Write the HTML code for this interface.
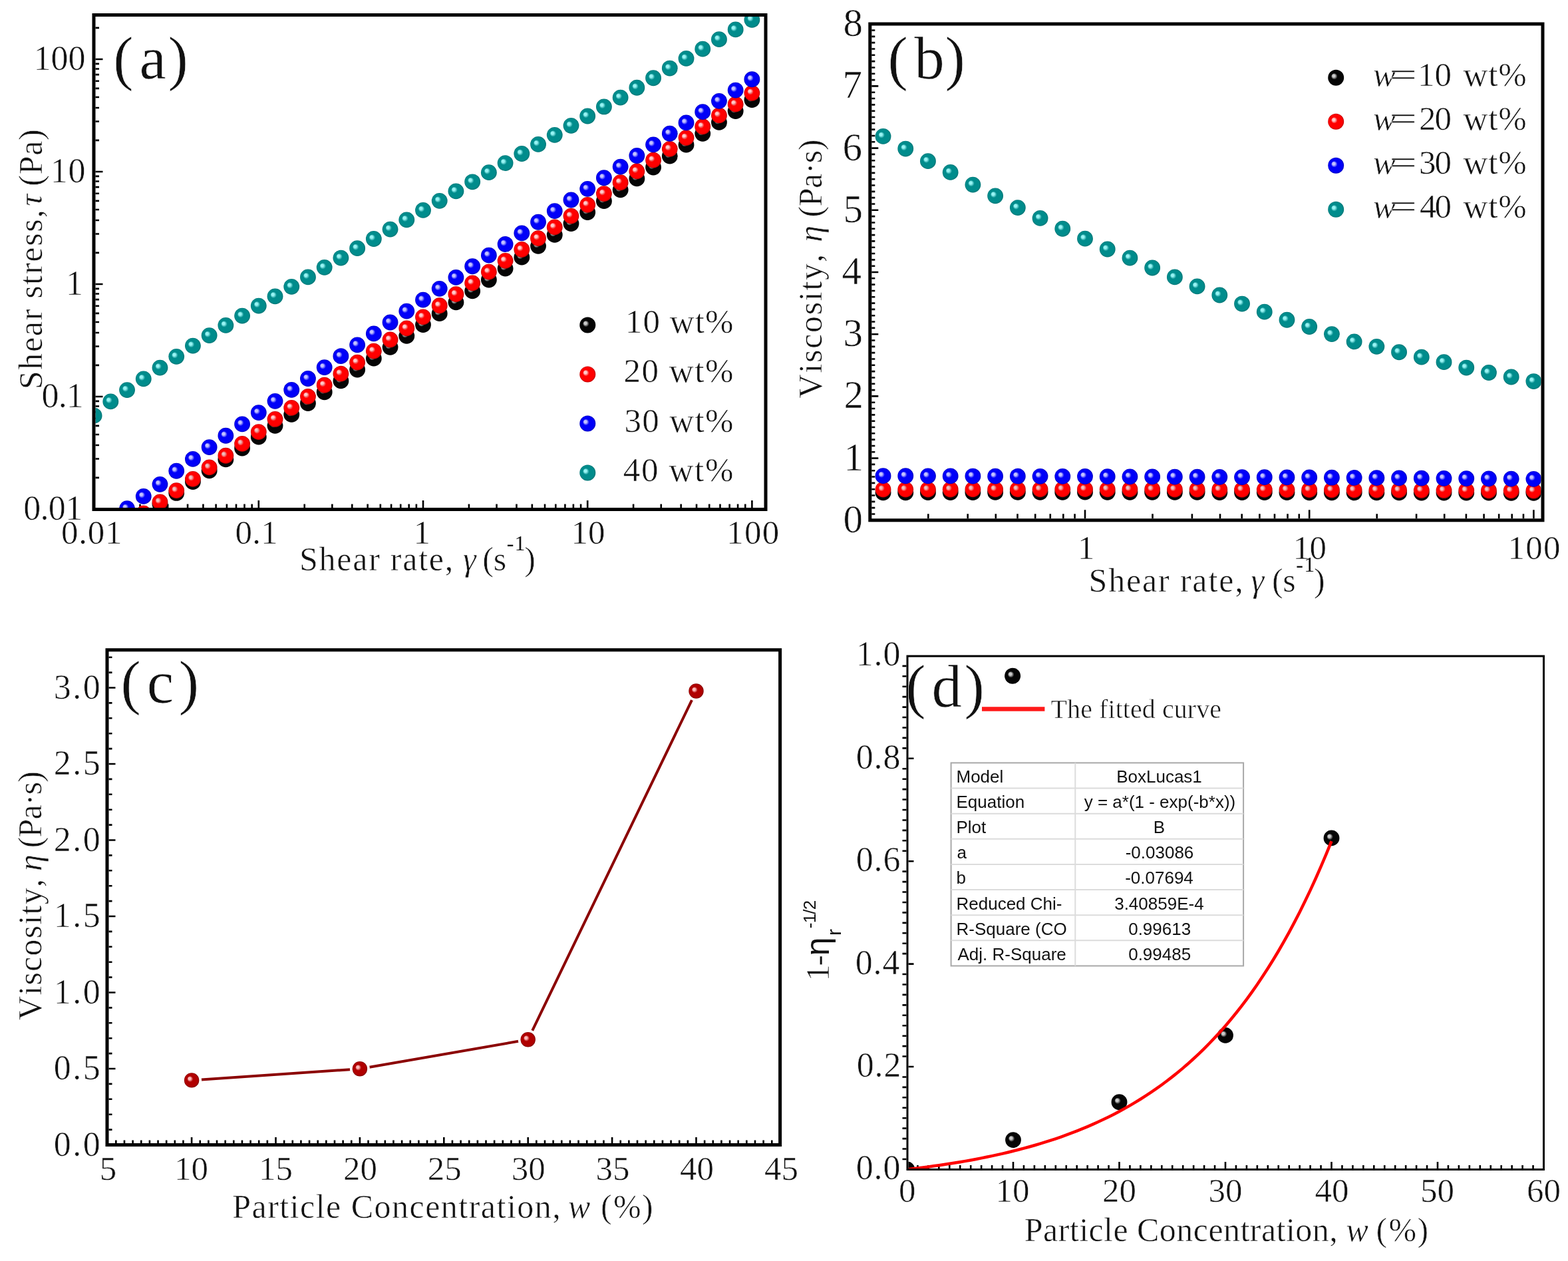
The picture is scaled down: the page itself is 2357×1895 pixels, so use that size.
<!DOCTYPE html>
<html><head><meta charset="utf-8"><title>Rheology of particle suspensions</title>
<style>html,body{margin:0;padding:0;background:#fff;width:2357px;height:1895px;overflow:hidden}svg{display:block}text{fill:#111;stroke:#fff;stroke-width:0.6px;font-kerning:none;font-variant-ligatures:none}</style>
</head><body>
<svg width="2357" height="1895" viewBox="0 0 2357 1895"><defs><radialGradient id="gk" cx="0.5" cy="0.5" r="0.5" fx="0.33" fy="0.36">
<stop offset="0" stop-color="#c8c8c8"/><stop offset="0.16" stop-color="#c8c8c8" stop-opacity="0.9"/>
<stop offset="0.4" stop-color="#050505"/><stop offset="0.85" stop-color="#050505"/><stop offset="1" stop-color="#000000"/></radialGradient><radialGradient id="gr" cx="0.5" cy="0.5" r="0.5" fx="0.33" fy="0.36">
<stop offset="0" stop-color="#ffc8c8"/><stop offset="0.16" stop-color="#ffc8c8" stop-opacity="0.9"/>
<stop offset="0.4" stop-color="#ff0000"/><stop offset="0.85" stop-color="#ff0000"/><stop offset="1" stop-color="#c00000"/></radialGradient><radialGradient id="gb" cx="0.5" cy="0.5" r="0.5" fx="0.33" fy="0.36">
<stop offset="0" stop-color="#c0c0ff"/><stop offset="0.16" stop-color="#c0c0ff" stop-opacity="0.9"/>
<stop offset="0.4" stop-color="#0000f8"/><stop offset="0.85" stop-color="#0000f8"/><stop offset="1" stop-color="#0000c0"/></radialGradient><radialGradient id="gt" cx="0.5" cy="0.5" r="0.5" fx="0.33" fy="0.36">
<stop offset="0" stop-color="#90f4f4"/><stop offset="0.16" stop-color="#90f4f4" stop-opacity="0.9"/>
<stop offset="0.4" stop-color="#008c8c"/><stop offset="0.85" stop-color="#008c8c"/><stop offset="1" stop-color="#007474"/></radialGradient><radialGradient id="gd" cx="0.5" cy="0.5" r="0.5" fx="0.33" fy="0.36">
<stop offset="0" stop-color="#ffb8b8"/><stop offset="0.16" stop-color="#ffb8b8" stop-opacity="0.9"/>
<stop offset="0.4" stop-color="#b00000"/><stop offset="0.85" stop-color="#b00000"/><stop offset="1" stop-color="#800000"/></radialGradient><clipPath id="ca"><rect x="143.5" y="25.0" width="1005" height="738.0"/></clipPath><clipPath id="cb"><rect x="1310.3" y="38.5" width="1006.2" height="740.8"/></clipPath><clipPath id="cd"><rect x="1365.5" y="987.5" width="953.5" height="768.5"/></clipPath></defs><rect width="2357" height="1895" fill="#fff"/>
<path d="M141.6 763.0v-11M210.51 763.0v-5.5M252.14 763.0v-5.5M282.06 763.0v-5.5M305.43 763.0v-5.5M324.62 763.0v-5.5M340.89 763.0v-5.5M355.01 763.0v-5.5M367.49 763.0v-5.5M378.68 763.0v-5.5M388.8 763.0v-11M457.71 763.0v-5.5M499.34 763.0v-5.5M529.26 763.0v-5.5M552.63 763.0v-5.5M571.82 763.0v-5.5M588.09 763.0v-5.5M602.21 763.0v-5.5M614.69 763.0v-5.5M625.88 763.0v-5.5M636 763.0v-11M704.91 763.0v-5.5M746.54 763.0v-5.5M776.46 763.0v-5.5M799.83 763.0v-5.5M819.02 763.0v-5.5M835.29 763.0v-5.5M849.41 763.0v-5.5M861.89 763.0v-5.5M873.08 763.0v-5.5M883.2 763.0v-11M952.11 763.0v-5.5M993.74 763.0v-5.5M1023.66 763.0v-5.5M1047.03 763.0v-5.5M1066.22 763.0v-5.5M1082.49 763.0v-5.5M1096.61 763.0v-5.5M1109.09 763.0v-5.5M1120.28 763.0v-5.5M1130.4 763.0v-11M143.5 765h11M143.5 717.89h5.5M143.5 689.43h5.5M143.5 668.97h5.5M143.5 652.99h5.5M143.5 639.88h5.5M143.5 628.76h5.5M143.5 619.1h5.5M143.5 610.57h5.5M143.5 602.92h5.5M143.5 596h11M143.5 548.89h5.5M143.5 520.43h5.5M143.5 499.97h5.5M143.5 483.99h5.5M143.5 470.88h5.5M143.5 459.76h5.5M143.5 450.1h5.5M143.5 441.57h5.5M143.5 433.92h5.5M143.5 427h11M143.5 379.89h5.5M143.5 351.43h5.5M143.5 330.97h5.5M143.5 314.99h5.5M143.5 301.88h5.5M143.5 290.76h5.5M143.5 281.1h5.5M143.5 272.57h5.5M143.5 264.92h5.5M143.5 258h11M143.5 210.89h5.5M143.5 182.43h5.5M143.5 161.97h5.5M143.5 145.99h5.5M143.5 132.88h5.5M143.5 121.76h5.5M143.5 112.1h5.5M143.5 103.57h5.5M143.5 95.92h5.5M143.5 89h11M143.5 41.89h5.5" stroke="#000" stroke-width="2.6" fill="none"/>
<g clip-path="url(#ca)"><circle cx="141.6" cy="825.26" r="11.9" fill="url(#gk)"/><circle cx="166.32" cy="808.4" r="11.9" fill="url(#gk)"/><circle cx="191.04" cy="791.54" r="11.9" fill="url(#gk)"/><circle cx="215.76" cy="774.68" r="11.9" fill="url(#gk)"/><circle cx="240.48" cy="757.82" r="11.9" fill="url(#gk)"/><circle cx="265.2" cy="740.97" r="11.9" fill="url(#gk)"/><circle cx="289.92" cy="724.11" r="11.9" fill="url(#gk)"/><circle cx="314.64" cy="707.25" r="11.9" fill="url(#gk)"/><circle cx="339.36" cy="690.39" r="11.9" fill="url(#gk)"/><circle cx="364.08" cy="673.53" r="11.9" fill="url(#gk)"/><circle cx="388.8" cy="656.67" r="11.9" fill="url(#gk)"/><circle cx="413.52" cy="639.82" r="11.9" fill="url(#gk)"/><circle cx="438.24" cy="622.96" r="11.9" fill="url(#gk)"/><circle cx="462.96" cy="606.1" r="11.9" fill="url(#gk)"/><circle cx="487.68" cy="589.24" r="11.9" fill="url(#gk)"/><circle cx="512.4" cy="572.38" r="11.9" fill="url(#gk)"/><circle cx="537.12" cy="555.53" r="11.9" fill="url(#gk)"/><circle cx="561.84" cy="538.67" r="11.9" fill="url(#gk)"/><circle cx="586.56" cy="521.81" r="11.9" fill="url(#gk)"/><circle cx="611.28" cy="504.95" r="11.9" fill="url(#gk)"/><circle cx="636" cy="488.1" r="11.9" fill="url(#gk)"/><circle cx="660.72" cy="471.2" r="11.9" fill="url(#gk)"/><circle cx="685.44" cy="454.3" r="11.9" fill="url(#gk)"/><circle cx="710.16" cy="437.4" r="11.9" fill="url(#gk)"/><circle cx="734.88" cy="420.5" r="11.9" fill="url(#gk)"/><circle cx="759.6" cy="403.6" r="11.9" fill="url(#gk)"/><circle cx="784.32" cy="386.7" r="11.9" fill="url(#gk)"/><circle cx="809.04" cy="369.8" r="11.9" fill="url(#gk)"/><circle cx="833.76" cy="352.9" r="11.9" fill="url(#gk)"/><circle cx="858.48" cy="336" r="11.9" fill="url(#gk)"/><circle cx="883.2" cy="319.1" r="11.9" fill="url(#gk)"/><circle cx="907.92" cy="302.2" r="11.9" fill="url(#gk)"/><circle cx="932.64" cy="285.3" r="11.9" fill="url(#gk)"/><circle cx="957.36" cy="268.4" r="11.9" fill="url(#gk)"/><circle cx="982.08" cy="251.5" r="11.9" fill="url(#gk)"/><circle cx="1006.8" cy="234.6" r="11.9" fill="url(#gk)"/><circle cx="1031.52" cy="217.7" r="11.9" fill="url(#gk)"/><circle cx="1056.24" cy="200.8" r="11.9" fill="url(#gk)"/><circle cx="1080.96" cy="183.9" r="11.9" fill="url(#gk)"/><circle cx="1105.68" cy="167" r="11.9" fill="url(#gk)"/><circle cx="1130.4" cy="150.1" r="11.9" fill="url(#gk)"/><circle cx="141.6" cy="822.8" r="11.9" fill="url(#gr)"/><circle cx="166.32" cy="805.69" r="11.9" fill="url(#gr)"/><circle cx="191.04" cy="788.59" r="11.9" fill="url(#gr)"/><circle cx="215.76" cy="771.49" r="11.9" fill="url(#gr)"/><circle cx="240.48" cy="754.39" r="11.9" fill="url(#gr)"/><circle cx="265.2" cy="737.18" r="11.9" fill="url(#gr)"/><circle cx="289.92" cy="719.96" r="11.9" fill="url(#gr)"/><circle cx="314.64" cy="702.35" r="11.9" fill="url(#gr)"/><circle cx="339.36" cy="684.75" r="11.9" fill="url(#gr)"/><circle cx="364.08" cy="666.92" r="11.9" fill="url(#gr)"/><circle cx="388.8" cy="649.11" r="11.9" fill="url(#gr)"/><circle cx="413.52" cy="629.97" r="11.9" fill="url(#gr)"/><circle cx="438.24" cy="612.9" r="11.9" fill="url(#gr)"/><circle cx="462.96" cy="595.83" r="11.9" fill="url(#gr)"/><circle cx="487.68" cy="578.76" r="11.9" fill="url(#gr)"/><circle cx="512.4" cy="561.68" r="11.9" fill="url(#gr)"/><circle cx="537.12" cy="544.61" r="11.9" fill="url(#gr)"/><circle cx="561.84" cy="527.54" r="11.9" fill="url(#gr)"/><circle cx="586.56" cy="510.47" r="11.9" fill="url(#gr)"/><circle cx="611.28" cy="493.4" r="11.9" fill="url(#gr)"/><circle cx="636" cy="476.33" r="11.9" fill="url(#gr)"/><circle cx="660.72" cy="459.26" r="11.9" fill="url(#gr)"/><circle cx="685.44" cy="442.19" r="11.9" fill="url(#gr)"/><circle cx="710.16" cy="425.39" r="11.9" fill="url(#gr)"/><circle cx="734.88" cy="408.6" r="11.9" fill="url(#gr)"/><circle cx="759.6" cy="391.8" r="11.9" fill="url(#gr)"/><circle cx="784.32" cy="375" r="11.9" fill="url(#gr)"/><circle cx="809.04" cy="358.21" r="11.9" fill="url(#gr)"/><circle cx="833.76" cy="341.41" r="11.9" fill="url(#gr)"/><circle cx="858.48" cy="324.62" r="11.9" fill="url(#gr)"/><circle cx="883.2" cy="307.82" r="11.9" fill="url(#gr)"/><circle cx="907.92" cy="291.03" r="11.9" fill="url(#gr)"/><circle cx="932.64" cy="274.23" r="11.9" fill="url(#gr)"/><circle cx="957.36" cy="257.44" r="11.9" fill="url(#gr)"/><circle cx="982.08" cy="240.64" r="11.9" fill="url(#gr)"/><circle cx="1006.8" cy="223.85" r="11.9" fill="url(#gr)"/><circle cx="1031.52" cy="207.05" r="11.9" fill="url(#gr)"/><circle cx="1056.24" cy="190.26" r="11.9" fill="url(#gr)"/><circle cx="1080.96" cy="173.46" r="11.9" fill="url(#gr)"/><circle cx="1105.68" cy="156.67" r="11.9" fill="url(#gr)"/><circle cx="1130.4" cy="139.87" r="11.9" fill="url(#gr)"/><circle cx="141.6" cy="800.09" r="11.9" fill="url(#gb)"/><circle cx="166.32" cy="782.07" r="11.9" fill="url(#gb)"/><circle cx="191.04" cy="764.07" r="11.9" fill="url(#gb)"/><circle cx="215.76" cy="745.92" r="11.9" fill="url(#gb)"/><circle cx="240.48" cy="727.79" r="11.9" fill="url(#gb)"/><circle cx="265.2" cy="707.73" r="11.9" fill="url(#gb)"/><circle cx="289.92" cy="689.88" r="11.9" fill="url(#gb)"/><circle cx="314.64" cy="672.04" r="11.9" fill="url(#gb)"/><circle cx="339.36" cy="654.73" r="11.9" fill="url(#gb)"/><circle cx="364.08" cy="637.42" r="11.9" fill="url(#gb)"/><circle cx="388.8" cy="620.11" r="11.9" fill="url(#gb)"/><circle cx="413.52" cy="602.8" r="11.9" fill="url(#gb)"/><circle cx="438.24" cy="585.9" r="11.9" fill="url(#gb)"/><circle cx="462.96" cy="569" r="11.9" fill="url(#gb)"/><circle cx="487.68" cy="552.1" r="11.9" fill="url(#gb)"/><circle cx="512.4" cy="535.2" r="11.9" fill="url(#gb)"/><circle cx="537.12" cy="518.3" r="11.9" fill="url(#gb)"/><circle cx="561.84" cy="501.4" r="11.9" fill="url(#gb)"/><circle cx="586.56" cy="484.5" r="11.9" fill="url(#gb)"/><circle cx="611.28" cy="467.6" r="11.9" fill="url(#gb)"/><circle cx="636" cy="450.7" r="11.9" fill="url(#gb)"/><circle cx="660.72" cy="433.8" r="11.9" fill="url(#gb)"/><circle cx="685.44" cy="416.9" r="11.9" fill="url(#gb)"/><circle cx="710.16" cy="400.27" r="11.9" fill="url(#gb)"/><circle cx="734.88" cy="383.64" r="11.9" fill="url(#gb)"/><circle cx="759.6" cy="367" r="11.9" fill="url(#gb)"/><circle cx="784.32" cy="350.37" r="11.9" fill="url(#gb)"/><circle cx="809.04" cy="333.74" r="11.9" fill="url(#gb)"/><circle cx="833.76" cy="317.11" r="11.9" fill="url(#gb)"/><circle cx="858.48" cy="300.48" r="11.9" fill="url(#gb)"/><circle cx="883.2" cy="283.86" r="11.9" fill="url(#gb)"/><circle cx="907.92" cy="267.23" r="11.9" fill="url(#gb)"/><circle cx="932.64" cy="250.6" r="11.9" fill="url(#gb)"/><circle cx="957.36" cy="233.98" r="11.9" fill="url(#gb)"/><circle cx="982.08" cy="217.36" r="11.9" fill="url(#gb)"/><circle cx="1006.8" cy="200.73" r="11.9" fill="url(#gb)"/><circle cx="1031.52" cy="184.43" r="11.9" fill="url(#gb)"/><circle cx="1056.24" cy="168.14" r="11.9" fill="url(#gb)"/><circle cx="1080.96" cy="151.84" r="11.9" fill="url(#gb)"/><circle cx="1105.68" cy="135.56" r="11.9" fill="url(#gb)"/><circle cx="1130.4" cy="119.27" r="11.9" fill="url(#gb)"/><circle cx="141.6" cy="624.7" r="11.9" fill="url(#gt)"/><circle cx="166.32" cy="603.4" r="11.9" fill="url(#gt)"/><circle cx="191.04" cy="586.1" r="11.9" fill="url(#gt)"/><circle cx="215.76" cy="569.3" r="11.9" fill="url(#gt)"/><circle cx="240.48" cy="552.6" r="11.9" fill="url(#gt)"/><circle cx="265.2" cy="535.8" r="11.9" fill="url(#gt)"/><circle cx="289.92" cy="519.6" r="11.9" fill="url(#gt)"/><circle cx="314.64" cy="504.2" r="11.9" fill="url(#gt)"/><circle cx="339.36" cy="488.9" r="11.9" fill="url(#gt)"/><circle cx="364.08" cy="474.6" r="11.9" fill="url(#gt)"/><circle cx="388.8" cy="459.6" r="11.9" fill="url(#gt)"/><circle cx="413.52" cy="445.3" r="11.9" fill="url(#gt)"/><circle cx="438.24" cy="430.81" r="11.9" fill="url(#gt)"/><circle cx="462.96" cy="416.41" r="11.9" fill="url(#gt)"/><circle cx="487.68" cy="401.83" r="11.9" fill="url(#gt)"/><circle cx="512.4" cy="387.59" r="11.9" fill="url(#gt)"/><circle cx="537.12" cy="373.17" r="11.9" fill="url(#gt)"/><circle cx="561.84" cy="358.99" r="11.9" fill="url(#gt)"/><circle cx="586.56" cy="344.61" r="11.9" fill="url(#gt)"/><circle cx="611.28" cy="330.32" r="11.9" fill="url(#gt)"/><circle cx="636" cy="315.96" r="11.9" fill="url(#gt)"/><circle cx="660.72" cy="301.86" r="11.9" fill="url(#gt)"/><circle cx="685.44" cy="287.35" r="11.9" fill="url(#gt)"/><circle cx="710.16" cy="273.28" r="11.9" fill="url(#gt)"/><circle cx="734.88" cy="259.13" r="11.9" fill="url(#gt)"/><circle cx="759.6" cy="245.1" r="11.9" fill="url(#gt)"/><circle cx="784.32" cy="230.98" r="11.9" fill="url(#gt)"/><circle cx="809.04" cy="216.96" r="11.9" fill="url(#gt)"/><circle cx="833.76" cy="202.85" r="11.9" fill="url(#gt)"/><circle cx="858.48" cy="188.84" r="11.9" fill="url(#gt)"/><circle cx="883.2" cy="174.49" r="11.9" fill="url(#gt)"/><circle cx="907.92" cy="160.47" r="11.9" fill="url(#gt)"/><circle cx="932.64" cy="146.56" r="11.9" fill="url(#gt)"/><circle cx="957.36" cy="131.73" r="11.9" fill="url(#gt)"/><circle cx="982.08" cy="117.23" r="11.9" fill="url(#gt)"/><circle cx="1006.8" cy="102.53" r="11.9" fill="url(#gt)"/><circle cx="1031.52" cy="87.89" r="11.9" fill="url(#gt)"/><circle cx="1056.24" cy="73.63" r="11.9" fill="url(#gt)"/><circle cx="1080.96" cy="59.16" r="11.9" fill="url(#gt)"/><circle cx="1105.68" cy="44.45" r="11.9" fill="url(#gt)"/><circle cx="1130.4" cy="29.81" r="11.9" fill="url(#gt)"/></g>
<rect x="141" y="22.5" width="1010" height="743.0" fill="none" stroke="#000" stroke-width="5"/>
<text x="91.9" y="816.5" style="font-family:'Liberation Serif','Times New Roman',serif;font-size:51px;letter-spacing:0.77px">0.01</text>
<text x="353.5" y="816.5" style="font-family:'Liberation Serif','Times New Roman',serif;font-size:51px;letter-spacing:0.25px">0.1</text>
<text x="621.5" y="816.5" style="font-family:'Liberation Serif','Times New Roman',serif;font-size:51px">1</text>
<text x="858.6" y="816.5" style="font-family:'Liberation Serif','Times New Roman',serif;font-size:51px;letter-spacing:-0.1px">10</text>
<text x="1092.3" y="816.5" style="font-family:'Liberation Serif','Times New Roman',serif;font-size:51px;letter-spacing:1.25px">100</text>
<text x="50.4" y="105" style="font-family:'Liberation Serif','Times New Roman',serif;font-size:52px;letter-spacing:0.05px">100</text>
<text x="75.8" y="274" style="font-family:'Liberation Serif','Times New Roman',serif;font-size:52px;letter-spacing:0.7px">10</text>
<text x="98.9" y="443" style="font-family:'Liberation Serif','Times New Roman',serif;font-size:52px">1</text>
<text x="62.6" y="612" style="font-family:'Liberation Serif','Times New Roman',serif;font-size:52px;letter-spacing:-0.9px">0.1</text>
<text x="35.2" y="781" style="font-family:'Liberation Serif','Times New Roman',serif;font-size:52px;letter-spacing:-0.67px">0.01</text>
<text x="170.3" y="118" style="font-family:'Liberation Serif','Times New Roman',serif;font-size:91px">(</text><text x="209.6" y="118" style="font-family:'Liberation Serif','Times New Roman',serif;font-size:91px">a</text><text x="252.5" y="118" style="font-family:'Liberation Serif','Times New Roman',serif;font-size:91px">)</text>
<circle cx="883.3" cy="488.5" r="12" fill="url(#gk)"/>
<text x="939.8" y="500" style="font-family:'Liberation Serif','Times New Roman',serif;font-size:51px;letter-spacing:1.08px">10 wt%</text>
<circle cx="883.3" cy="562.5" r="12" fill="url(#gr)"/>
<text x="937.5" y="574.3" style="font-family:'Liberation Serif','Times New Roman',serif;font-size:51px;letter-spacing:1.54px">20 wt%</text>
<circle cx="883.3" cy="636.5" r="12" fill="url(#gb)"/>
<text x="938.4" y="648.6" style="font-family:'Liberation Serif','Times New Roman',serif;font-size:51px;letter-spacing:1.36px">30 wt%</text>
<circle cx="883.3" cy="710.5" r="12" fill="url(#gt)"/>
<text x="936.8" y="722.9" style="font-family:'Liberation Serif','Times New Roman',serif;font-size:51px;letter-spacing:1.68px">40 wt%</text>
<text x="450" y="856.5" style="font-family:'Liberation Serif','Times New Roman',serif;font-size:50px;letter-spacing:1.75px">Shear rate,</text>
<text x="696.1" y="856.5" style="font-family:'Liberation Serif','Times New Roman',serif;font-style:italic;font-size:50px">γ</text>
<text x="725.2" y="856.5" style="font-family:'Liberation Serif','Times New Roman',serif;font-size:50px">(s</text>
<text x="761.8" y="827" style="font-family:'Liberation Serif','Times New Roman',serif;font-size:32px;stroke:none">-</text>
<text x="773.5" y="827" style="font-family:'Liberation Serif','Times New Roman',serif;font-size:32px;stroke:none">1</text>
<text x="788.2" y="856.5" style="font-family:'Liberation Serif','Times New Roman',serif;font-size:50px">)</text>
<text transform="translate(62.5,582.2) rotate(-90)" x="-3" y="0" style="font-family:'Liberation Serif','Times New Roman',serif;font-size:50px;letter-spacing:1.68px">Shear stress,</text>
<text transform="translate(62.5,308.8) rotate(-90)" x="-1" y="0" style="font-family:'Liberation Serif','Times New Roman',serif;font-style:italic;font-size:50px">τ</text>
<text transform="translate(62.5,277.7) rotate(-90)" x="-2" y="0" style="font-family:'Liberation Serif','Times New Roman',serif;font-size:50px;letter-spacing:0.7px">(Pa)</text>
<path d="M1395.31 779.3v-7M1454.69 779.3v-7M1496.81 779.3v-7M1529.49 779.3v-7M1556.19 779.3v-7M1578.77 779.3v-7M1598.32 779.3v-7M1615.57 779.3v-7M1631 779.3v-13M1732.51 779.3v-7M1791.89 779.3v-7M1834.01 779.3v-7M1866.69 779.3v-7M1893.39 779.3v-7M1915.97 779.3v-7M1935.52 779.3v-7M1952.77 779.3v-7M1968.2 779.3v-13M2069.71 779.3v-7M2129.09 779.3v-7M2171.21 779.3v-7M2203.89 779.3v-7M2230.59 779.3v-7M2253.17 779.3v-7M2272.72 779.3v-7M2289.97 779.3v-7M2305.4 779.3v-13M1310.3 781.8h10M1310.3 772.48h5M1310.3 763.16h5M1310.3 753.84h5M1310.3 744.52h5M1310.3 735.2h5M1310.3 725.88h5M1310.3 716.56h5M1310.3 707.24h5M1310.3 697.92h5M1310.3 688.6h10M1310.3 679.28h5M1310.3 669.96h5M1310.3 660.64h5M1310.3 651.32h5M1310.3 642h5M1310.3 632.68h5M1310.3 623.36h5M1310.3 614.04h5M1310.3 604.72h5M1310.3 595.4h10M1310.3 586.08h5M1310.3 576.76h5M1310.3 567.44h5M1310.3 558.12h5M1310.3 548.8h5M1310.3 539.48h5M1310.3 530.16h5M1310.3 520.84h5M1310.3 511.52h5M1310.3 502.2h10M1310.3 492.88h5M1310.3 483.56h5M1310.3 474.24h5M1310.3 464.92h5M1310.3 455.6h5M1310.3 446.28h5M1310.3 436.96h5M1310.3 427.64h5M1310.3 418.32h5M1310.3 409h10M1310.3 399.68h5M1310.3 390.36h5M1310.3 381.04h5M1310.3 371.72h5M1310.3 362.4h5M1310.3 353.08h5M1310.3 343.76h5M1310.3 334.44h5M1310.3 325.12h5M1310.3 315.8h10M1310.3 306.48h5M1310.3 297.16h5M1310.3 287.84h5M1310.3 278.52h5M1310.3 269.2h5M1310.3 259.88h5M1310.3 250.56h5M1310.3 241.24h5M1310.3 231.92h5M1310.3 222.6h10M1310.3 213.28h5M1310.3 203.96h5M1310.3 194.64h5M1310.3 185.32h5M1310.3 176h5M1310.3 166.68h5M1310.3 157.36h5M1310.3 148.04h5M1310.3 138.72h5M1310.3 129.4h10M1310.3 120.08h5M1310.3 110.76h5M1310.3 101.44h5M1310.3 92.12h5M1310.3 82.8h5M1310.3 73.48h5M1310.3 64.16h5M1310.3 54.84h5M1310.3 45.52h5M1310.3 36.2h10" stroke="#000" stroke-width="2.6" fill="none"/>
<g clip-path="url(#cb)"><circle cx="1327.52" cy="740.33" r="11.9" fill="url(#gk)"/><circle cx="1361.24" cy="740.25" r="11.9" fill="url(#gk)"/><circle cx="1394.96" cy="740.18" r="11.9" fill="url(#gk)"/><circle cx="1428.68" cy="740.11" r="11.9" fill="url(#gk)"/><circle cx="1462.4" cy="740.04" r="11.9" fill="url(#gk)"/><circle cx="1496.12" cy="739.96" r="11.9" fill="url(#gk)"/><circle cx="1529.84" cy="739.89" r="11.9" fill="url(#gk)"/><circle cx="1563.56" cy="739.82" r="11.9" fill="url(#gk)"/><circle cx="1597.28" cy="739.75" r="11.9" fill="url(#gk)"/><circle cx="1631" cy="739.67" r="11.9" fill="url(#gk)"/><circle cx="1664.72" cy="739.73" r="11.9" fill="url(#gk)"/><circle cx="1698.44" cy="739.79" r="11.9" fill="url(#gk)"/><circle cx="1732.16" cy="739.84" r="11.9" fill="url(#gk)"/><circle cx="1765.88" cy="739.9" r="11.9" fill="url(#gk)"/><circle cx="1799.6" cy="739.95" r="11.9" fill="url(#gk)"/><circle cx="1833.32" cy="740.01" r="11.9" fill="url(#gk)"/><circle cx="1867.04" cy="740.07" r="11.9" fill="url(#gk)"/><circle cx="1900.76" cy="740.12" r="11.9" fill="url(#gk)"/><circle cx="1934.48" cy="740.18" r="11.9" fill="url(#gk)"/><circle cx="1968.2" cy="740.23" r="11.9" fill="url(#gk)"/><circle cx="2001.92" cy="740.29" r="11.9" fill="url(#gk)"/><circle cx="2035.64" cy="740.34" r="11.9" fill="url(#gk)"/><circle cx="2069.36" cy="740.4" r="11.9" fill="url(#gk)"/><circle cx="2103.08" cy="740.46" r="11.9" fill="url(#gk)"/><circle cx="2136.8" cy="740.51" r="11.9" fill="url(#gk)"/><circle cx="2170.52" cy="740.57" r="11.9" fill="url(#gk)"/><circle cx="2204.24" cy="740.62" r="11.9" fill="url(#gk)"/><circle cx="2237.96" cy="740.68" r="11.9" fill="url(#gk)"/><circle cx="2271.68" cy="740.74" r="11.9" fill="url(#gk)"/><circle cx="2305.4" cy="740.79" r="11.9" fill="url(#gk)"/><circle cx="1327.52" cy="735.67" r="11.9" fill="url(#gr)"/><circle cx="1361.24" cy="735.61" r="11.9" fill="url(#gr)"/><circle cx="1394.96" cy="735.56" r="11.9" fill="url(#gr)"/><circle cx="1428.68" cy="735.51" r="11.9" fill="url(#gr)"/><circle cx="1462.4" cy="735.46" r="11.9" fill="url(#gr)"/><circle cx="1496.12" cy="735.41" r="11.9" fill="url(#gr)"/><circle cx="1529.84" cy="735.36" r="11.9" fill="url(#gr)"/><circle cx="1563.56" cy="735.3" r="11.9" fill="url(#gr)"/><circle cx="1597.28" cy="735.25" r="11.9" fill="url(#gr)"/><circle cx="1631" cy="735.2" r="11.9" fill="url(#gr)"/><circle cx="1664.72" cy="735.29" r="11.9" fill="url(#gr)"/><circle cx="1698.44" cy="735.39" r="11.9" fill="url(#gr)"/><circle cx="1732.16" cy="735.48" r="11.9" fill="url(#gr)"/><circle cx="1765.88" cy="735.57" r="11.9" fill="url(#gr)"/><circle cx="1799.6" cy="735.67" r="11.9" fill="url(#gr)"/><circle cx="1833.32" cy="735.76" r="11.9" fill="url(#gr)"/><circle cx="1867.04" cy="735.85" r="11.9" fill="url(#gr)"/><circle cx="1900.76" cy="735.95" r="11.9" fill="url(#gr)"/><circle cx="1934.48" cy="736.04" r="11.9" fill="url(#gr)"/><circle cx="1968.2" cy="736.13" r="11.9" fill="url(#gr)"/><circle cx="2001.92" cy="736.27" r="11.9" fill="url(#gr)"/><circle cx="2035.64" cy="736.41" r="11.9" fill="url(#gr)"/><circle cx="2069.36" cy="736.55" r="11.9" fill="url(#gr)"/><circle cx="2103.08" cy="736.69" r="11.9" fill="url(#gr)"/><circle cx="2136.8" cy="736.83" r="11.9" fill="url(#gr)"/><circle cx="2170.52" cy="736.97" r="11.9" fill="url(#gr)"/><circle cx="2204.24" cy="737.11" r="11.9" fill="url(#gr)"/><circle cx="2237.96" cy="737.25" r="11.9" fill="url(#gr)"/><circle cx="2271.68" cy="737.39" r="11.9" fill="url(#gr)"/><circle cx="2305.4" cy="737.53" r="11.9" fill="url(#gr)"/><circle cx="1327.52" cy="715.16" r="11.9" fill="url(#gb)"/><circle cx="1361.24" cy="715.26" r="11.9" fill="url(#gb)"/><circle cx="1394.96" cy="715.35" r="11.9" fill="url(#gb)"/><circle cx="1428.68" cy="715.44" r="11.9" fill="url(#gb)"/><circle cx="1462.4" cy="715.53" r="11.9" fill="url(#gb)"/><circle cx="1496.12" cy="715.63" r="11.9" fill="url(#gb)"/><circle cx="1529.84" cy="715.72" r="11.9" fill="url(#gb)"/><circle cx="1563.56" cy="715.81" r="11.9" fill="url(#gb)"/><circle cx="1597.28" cy="715.91" r="11.9" fill="url(#gb)"/><circle cx="1631" cy="716" r="11.9" fill="url(#gb)"/><circle cx="1664.72" cy="716.15" r="11.9" fill="url(#gb)"/><circle cx="1698.44" cy="716.3" r="11.9" fill="url(#gb)"/><circle cx="1732.16" cy="716.45" r="11.9" fill="url(#gb)"/><circle cx="1765.88" cy="716.6" r="11.9" fill="url(#gb)"/><circle cx="1799.6" cy="716.75" r="11.9" fill="url(#gb)"/><circle cx="1833.32" cy="716.9" r="11.9" fill="url(#gb)"/><circle cx="1867.04" cy="717.04" r="11.9" fill="url(#gb)"/><circle cx="1900.76" cy="717.19" r="11.9" fill="url(#gb)"/><circle cx="1934.48" cy="717.34" r="11.9" fill="url(#gb)"/><circle cx="1968.2" cy="717.49" r="11.9" fill="url(#gb)"/><circle cx="2001.92" cy="717.72" r="11.9" fill="url(#gb)"/><circle cx="2035.64" cy="717.96" r="11.9" fill="url(#gb)"/><circle cx="2069.36" cy="718.19" r="11.9" fill="url(#gb)"/><circle cx="2103.08" cy="718.42" r="11.9" fill="url(#gb)"/><circle cx="2136.8" cy="718.66" r="11.9" fill="url(#gb)"/><circle cx="2170.52" cy="718.89" r="11.9" fill="url(#gb)"/><circle cx="2204.24" cy="719.12" r="11.9" fill="url(#gb)"/><circle cx="2237.96" cy="719.36" r="11.9" fill="url(#gb)"/><circle cx="2271.68" cy="719.59" r="11.9" fill="url(#gb)"/><circle cx="2305.4" cy="719.82" r="11.9" fill="url(#gb)"/><circle cx="1327.52" cy="204.89" r="11.9" fill="url(#gt)"/><circle cx="1361.24" cy="223.53" r="11.9" fill="url(#gt)"/><circle cx="1394.96" cy="242.17" r="11.9" fill="url(#gt)"/><circle cx="1428.68" cy="258.95" r="11.9" fill="url(#gt)"/><circle cx="1462.4" cy="277.59" r="11.9" fill="url(#gt)"/><circle cx="1496.12" cy="294.36" r="11.9" fill="url(#gt)"/><circle cx="1529.84" cy="312.07" r="11.9" fill="url(#gt)"/><circle cx="1563.56" cy="327.92" r="11.9" fill="url(#gt)"/><circle cx="1597.28" cy="343.76" r="11.9" fill="url(#gt)"/><circle cx="1631" cy="358.67" r="11.9" fill="url(#gt)"/><circle cx="1664.72" cy="374.52" r="11.9" fill="url(#gt)"/><circle cx="1698.44" cy="387.56" r="11.9" fill="url(#gt)"/><circle cx="1732.16" cy="402.48" r="11.9" fill="url(#gt)"/><circle cx="1765.88" cy="416.46" r="11.9" fill="url(#gt)"/><circle cx="1799.6" cy="430.44" r="11.9" fill="url(#gt)"/><circle cx="1833.32" cy="443.48" r="11.9" fill="url(#gt)"/><circle cx="1867.04" cy="456.53" r="11.9" fill="url(#gt)"/><circle cx="1900.76" cy="468.65" r="11.9" fill="url(#gt)"/><circle cx="1934.48" cy="480.76" r="11.9" fill="url(#gt)"/><circle cx="1968.2" cy="491.02" r="11.9" fill="url(#gt)"/><circle cx="2001.92" cy="502.2" r="11.9" fill="url(#gt)"/><circle cx="2035.64" cy="513.38" r="11.9" fill="url(#gt)"/><circle cx="2069.36" cy="520.84" r="11.9" fill="url(#gt)"/><circle cx="2103.08" cy="529.23" r="11.9" fill="url(#gt)"/><circle cx="2136.8" cy="536.68" r="11.9" fill="url(#gt)"/><circle cx="2170.52" cy="544.14" r="11.9" fill="url(#gt)"/><circle cx="2204.24" cy="552.53" r="11.9" fill="url(#gt)"/><circle cx="2237.96" cy="559.98" r="11.9" fill="url(#gt)"/><circle cx="2271.68" cy="566.51" r="11.9" fill="url(#gt)"/><circle cx="2305.4" cy="573.03" r="11.9" fill="url(#gt)"/></g>
<rect x="1307.8" y="36" width="1011.2" height="745.8" fill="none" stroke="#000" stroke-width="5"/>
<text x="1619.7" y="839.5" style="font-family:'Liberation Serif','Times New Roman',serif;font-size:51px">1</text>
<text x="1943.5" y="839.5" style="font-family:'Liberation Serif','Times New Roman',serif;font-size:51px;letter-spacing:-0.6px">10</text>
<text x="2266.6" y="839.5" style="font-family:'Liberation Serif','Times New Roman',serif;font-size:51px;letter-spacing:1.2px">100</text>
<text x="1267.6" y="799.8" style="font-family:'Liberation Serif','Times New Roman',serif;font-size:59px">0</text>
<text x="1268.6" y="706.6" style="font-family:'Liberation Serif','Times New Roman',serif;font-size:59px">1</text>
<text x="1268.6" y="613.4" style="font-family:'Liberation Serif','Times New Roman',serif;font-size:59px">2</text>
<text x="1267.6" y="520.2" style="font-family:'Liberation Serif','Times New Roman',serif;font-size:59px">3</text>
<text x="1265.6" y="427" style="font-family:'Liberation Serif','Times New Roman',serif;font-size:59px">4</text>
<text x="1267.6" y="333.8" style="font-family:'Liberation Serif','Times New Roman',serif;font-size:59px">5</text>
<text x="1266.6" y="240.6" style="font-family:'Liberation Serif','Times New Roman',serif;font-size:59px">6</text>
<text x="1266.6" y="147.4" style="font-family:'Liberation Serif','Times New Roman',serif;font-size:59px">7</text>
<text x="1267.6" y="54.2" style="font-family:'Liberation Serif','Times New Roman',serif;font-size:59px">8</text>
<text x="1334.4" y="117.5" style="font-family:'Liberation Serif','Times New Roman',serif;font-size:91px">(</text><text x="1374.2" y="117.5" style="font-family:'Liberation Serif','Times New Roman',serif;font-size:91px">b</text><text x="1420.5" y="117.5" style="font-family:'Liberation Serif','Times New Roman',serif;font-size:91px">)</text>
<circle cx="2008.2" cy="116.8" r="12" fill="url(#gk)"/>
<text x="2064" y="128.8" style="font-family:'Liberation Serif','Times New Roman',serif;font-style:italic;font-size:51px">w</text>
<g transform="translate(2092.6,0) scale(1.45,1) translate(-2092.6,0)"><text x="2089.6" y="128.8" style="font-family:'Liberation Serif','Times New Roman',serif;font-size:51px">=</text></g>
<text x="2131" y="128.8" style="font-family:'Liberation Serif','Times New Roman',serif;font-size:51px">10</text>
<text x="2199.4" y="128.8" style="font-family:'Liberation Serif','Times New Roman',serif;font-size:51px;letter-spacing:0.95px">wt%</text>
<circle cx="2008.2" cy="182.8" r="12" fill="url(#gr)"/>
<text x="2064" y="194.8" style="font-family:'Liberation Serif','Times New Roman',serif;font-style:italic;font-size:51px">w</text>
<g transform="translate(2092.6,0) scale(1.45,1) translate(-2092.6,0)"><text x="2089.6" y="194.8" style="font-family:'Liberation Serif','Times New Roman',serif;font-size:51px">=</text></g>
<text x="2133" y="194.8" style="font-family:'Liberation Serif','Times New Roman',serif;font-size:51px;letter-spacing:-2px">20</text>
<text x="2199.4" y="194.8" style="font-family:'Liberation Serif','Times New Roman',serif;font-size:51px;letter-spacing:0.95px">wt%</text>
<circle cx="2008.2" cy="248.8" r="12" fill="url(#gb)"/>
<text x="2064" y="260.8" style="font-family:'Liberation Serif','Times New Roman',serif;font-style:italic;font-size:51px">w</text>
<g transform="translate(2092.6,0) scale(1.45,1) translate(-2092.6,0)"><text x="2089.6" y="260.8" style="font-family:'Liberation Serif','Times New Roman',serif;font-size:51px">=</text></g>
<text x="2133" y="260.8" style="font-family:'Liberation Serif','Times New Roman',serif;font-size:51px;letter-spacing:-2px">30</text>
<text x="2199.4" y="260.8" style="font-family:'Liberation Serif','Times New Roman',serif;font-size:51px;letter-spacing:0.95px">wt%</text>
<circle cx="2008.2" cy="314.8" r="12" fill="url(#gt)"/>
<text x="2064" y="326.8" style="font-family:'Liberation Serif','Times New Roman',serif;font-style:italic;font-size:51px">w</text>
<g transform="translate(2092.6,0) scale(1.45,1) translate(-2092.6,0)"><text x="2089.6" y="326.8" style="font-family:'Liberation Serif','Times New Roman',serif;font-size:51px">=</text></g>
<text x="2134" y="326.8" style="font-family:'Liberation Serif','Times New Roman',serif;font-size:51px;letter-spacing:-3px">40</text>
<text x="2199.4" y="326.8" style="font-family:'Liberation Serif','Times New Roman',serif;font-size:51px;letter-spacing:0.95px">wt%</text>
<text x="1636.5" y="888.5" style="font-family:'Liberation Serif','Times New Roman',serif;font-size:50px;letter-spacing:1.84px">Shear rate,</text>
<text x="1880.6" y="888.5" style="font-family:'Liberation Serif','Times New Roman',serif;font-style:italic;font-size:50px">γ</text>
<text x="1912" y="888.5" style="font-family:'Liberation Serif','Times New Roman',serif;font-size:50px;letter-spacing:-0.5px">(s</text>
<text x="1948.3" y="859.4" style="font-family:'Liberation Serif','Times New Roman',serif;font-size:32px;stroke:none">-</text>
<text x="1960.2" y="859.4" style="font-family:'Liberation Serif','Times New Roman',serif;font-size:32px;stroke:none">1</text>
<text x="1975.1" y="888.5" style="font-family:'Liberation Serif','Times New Roman',serif;font-size:50px">)</text>
<text transform="translate(1235,597.5) rotate(-90)" x="-1" y="0" style="font-family:'Liberation Serif','Times New Roman',serif;font-size:50px;letter-spacing:1.7px">Viscosity,</text>
<text transform="translate(1235,361.8) rotate(-90)" x="-2" y="0" style="font-family:'Liberation Serif','Times New Roman',serif;font-style:italic;font-size:50px">η</text>
<text transform="translate(1235,324.5) rotate(-90)" x="-2" y="0" style="font-family:'Liberation Serif','Times New Roman',serif;font-size:50px;letter-spacing:-0.5px">(Pa·s)</text>
<path d="M174.34 1718.0v-4.5M186.98 1718.0v-4.5M199.62 1718.0v-4.5M212.26 1718.0v-4.5M224.9 1718.0v-4.5M237.54 1718.0v-4.5M250.18 1718.0v-4.5M262.82 1718.0v-4.5M275.46 1718.0v-4.5M288.1 1718.0v-9M300.74 1718.0v-4.5M313.38 1718.0v-4.5M326.02 1718.0v-4.5M338.66 1718.0v-4.5M351.3 1718.0v-4.5M363.94 1718.0v-4.5M376.58 1718.0v-4.5M389.22 1718.0v-4.5M401.86 1718.0v-4.5M414.5 1718.0v-9M427.14 1718.0v-4.5M439.78 1718.0v-4.5M452.42 1718.0v-4.5M465.06 1718.0v-4.5M477.7 1718.0v-4.5M490.34 1718.0v-4.5M502.98 1718.0v-4.5M515.62 1718.0v-4.5M528.26 1718.0v-4.5M540.9 1718.0v-9M553.54 1718.0v-4.5M566.18 1718.0v-4.5M578.82 1718.0v-4.5M591.46 1718.0v-4.5M604.1 1718.0v-4.5M616.74 1718.0v-4.5M629.38 1718.0v-4.5M642.02 1718.0v-4.5M654.66 1718.0v-4.5M667.3 1718.0v-9M679.94 1718.0v-4.5M692.58 1718.0v-4.5M705.22 1718.0v-4.5M717.86 1718.0v-4.5M730.5 1718.0v-4.5M743.14 1718.0v-4.5M755.78 1718.0v-4.5M768.42 1718.0v-4.5M781.06 1718.0v-4.5M793.7 1718.0v-9M806.34 1718.0v-4.5M818.98 1718.0v-4.5M831.62 1718.0v-4.5M844.26 1718.0v-4.5M856.9 1718.0v-4.5M869.54 1718.0v-4.5M882.18 1718.0v-4.5M894.82 1718.0v-4.5M907.46 1718.0v-4.5M920.1 1718.0v-9M932.74 1718.0v-4.5M945.38 1718.0v-4.5M958.02 1718.0v-4.5M970.66 1718.0v-4.5M983.3 1718.0v-4.5M995.94 1718.0v-4.5M1008.58 1718.0v-4.5M1021.22 1718.0v-4.5M1033.86 1718.0v-4.5M1046.5 1718.0v-9M1059.14 1718.0v-4.5M1071.78 1718.0v-4.5M1084.42 1718.0v-4.5M1097.06 1718.0v-4.5M1109.7 1718.0v-4.5M1122.34 1718.0v-4.5M1134.98 1718.0v-4.5M1147.62 1718.0v-4.5M1160.26 1718.0v-4.5M163.5 1697.6h5M163.5 1674.7h5M163.5 1651.8h5M163.5 1628.9h5M163.5 1606h10M163.5 1583.1h5M163.5 1560.2h5M163.5 1537.3h5M163.5 1514.4h5M163.5 1491.5h10M163.5 1468.6h5M163.5 1445.7h5M163.5 1422.8h5M163.5 1399.9h5M163.5 1377h10M163.5 1354.1h5M163.5 1331.2h5M163.5 1308.3h5M163.5 1285.4h5M163.5 1262.5h10M163.5 1239.6h5M163.5 1216.7h5M163.5 1193.8h5M163.5 1170.9h5M163.5 1148h10M163.5 1125.1h5M163.5 1102.2h5M163.5 1079.3h5M163.5 1056.4h5M163.5 1033.5h10M163.5 1010.6h5M163.5 987.7h5" stroke="#000" stroke-width="2.6" fill="none"/>
<polyline points="288.1,1623.4 540.9,1606.23 793.7,1562.26 1046.5,1038.54" fill="none" stroke="#8b0000" stroke-width="4"/>
<circle cx="288.1" cy="1623.4" r="15" fill="#fff"/>
<circle cx="288.1" cy="1623.4" r="11.2" fill="url(#gd)"/>
<circle cx="540.9" cy="1606.23" r="15" fill="#fff"/>
<circle cx="540.9" cy="1606.23" r="11.2" fill="url(#gd)"/>
<circle cx="793.7" cy="1562.26" r="15" fill="#fff"/>
<circle cx="793.7" cy="1562.26" r="11.2" fill="url(#gd)"/>
<circle cx="1046.5" cy="1038.54" r="15" fill="#fff"/>
<circle cx="1046.5" cy="1038.54" r="11.2" fill="url(#gd)"/>
<rect x="161" y="976.7" width="1011.5999999999999" height="743.8" fill="none" stroke="#000" stroke-width="5"/>
<text x="149.7" y="1772.5" style="font-family:'Liberation Serif','Times New Roman',serif;font-size:51px">5</text>
<text x="262.1" y="1772.5" style="font-family:'Liberation Serif','Times New Roman',serif;font-size:51px">10</text>
<text x="389" y="1772.5" style="font-family:'Liberation Serif','Times New Roman',serif;font-size:51px">15</text>
<text x="515.9" y="1772.5" style="font-family:'Liberation Serif','Times New Roman',serif;font-size:51px">20</text>
<text x="642.8" y="1772.5" style="font-family:'Liberation Serif','Times New Roman',serif;font-size:51px">25</text>
<text x="768.7" y="1772.5" style="font-family:'Liberation Serif','Times New Roman',serif;font-size:51px">30</text>
<text x="895.6" y="1772.5" style="font-family:'Liberation Serif','Times New Roman',serif;font-size:51px">35</text>
<text x="1022" y="1772.5" style="font-family:'Liberation Serif','Times New Roman',serif;font-size:51px">40</text>
<text x="1148.9" y="1772.5" style="font-family:'Liberation Serif','Times New Roman',serif;font-size:51px">45</text>
<text x="80.8" y="1736.5" style="font-family:'Liberation Serif','Times New Roman',serif;font-size:52px;letter-spacing:2.5px">0.0</text>
<text x="80.8" y="1622" style="font-family:'Liberation Serif','Times New Roman',serif;font-size:52px;letter-spacing:2.5px">0.5</text>
<text x="80.8" y="1507.5" style="font-family:'Liberation Serif','Times New Roman',serif;font-size:52px;letter-spacing:2.5px">1.0</text>
<text x="80.8" y="1393" style="font-family:'Liberation Serif','Times New Roman',serif;font-size:52px;letter-spacing:2.5px">1.5</text>
<text x="80.8" y="1278.5" style="font-family:'Liberation Serif','Times New Roman',serif;font-size:52px;letter-spacing:2.5px">2.0</text>
<text x="80.8" y="1164" style="font-family:'Liberation Serif','Times New Roman',serif;font-size:52px;letter-spacing:2.5px">2.5</text>
<text x="80.8" y="1049.5" style="font-family:'Liberation Serif','Times New Roman',serif;font-size:52px;letter-spacing:2.5px">3.0</text>
<text x="181.4" y="1055.5" style="font-family:'Liberation Serif','Times New Roman',serif;font-size:91px">(</text><text x="220.7" y="1055.5" style="font-family:'Liberation Serif','Times New Roman',serif;font-size:91px">c</text><text x="268.7" y="1055.5" style="font-family:'Liberation Serif','Times New Roman',serif;font-size:91px">)</text>
<text x="349.2" y="1830" style="font-family:'Liberation Serif','Times New Roman',serif;font-size:50px;letter-spacing:1.48px">Particle Concentration,</text>
<text x="854.1" y="1830" style="font-family:'Liberation Serif','Times New Roman',serif;font-style:italic;font-size:50px">w</text>
<text x="903.1" y="1830" style="font-family:'Liberation Serif','Times New Roman',serif;font-size:50px">(</text><text x="921.9" y="1830" style="font-family:'Liberation Serif','Times New Roman',serif;font-size:50px">%</text><text x="964.9" y="1830" style="font-family:'Liberation Serif','Times New Roman',serif;font-size:50px">)</text>
<text transform="translate(62,1532) rotate(-90)" x="-1" y="0" style="font-family:'Liberation Serif','Times New Roman',serif;font-size:50px;letter-spacing:1.22px">Viscosity,</text>
<text transform="translate(62,1307) rotate(-90)" x="-2" y="0" style="font-family:'Liberation Serif','Times New Roman',serif;font-style:italic;font-size:50px">η</text>
<text transform="translate(62,1272.3) rotate(-90)" x="-2" y="0" style="font-family:'Liberation Serif','Times New Roman',serif;font-size:50px;letter-spacing:-0.84px">(Pa·s)</text>
<path d="M1379.45 1756.0v-5M1395.4 1756.0v-5M1411.35 1756.0v-5M1427.3 1756.0v-5M1443.25 1756.0v-5M1459.2 1756.0v-5M1475.15 1756.0v-5M1491.1 1756.0v-5M1507.05 1756.0v-5M1523 1756.0v-10M1538.95 1756.0v-5M1554.9 1756.0v-5M1570.85 1756.0v-5M1586.8 1756.0v-5M1602.75 1756.0v-5M1618.7 1756.0v-5M1634.65 1756.0v-5M1650.6 1756.0v-5M1666.55 1756.0v-5M1682.5 1756.0v-10M1698.45 1756.0v-5M1714.4 1756.0v-5M1730.35 1756.0v-5M1746.3 1756.0v-5M1762.25 1756.0v-5M1778.2 1756.0v-5M1794.15 1756.0v-5M1810.1 1756.0v-5M1826.05 1756.0v-5M1842 1756.0v-10M1857.95 1756.0v-5M1873.9 1756.0v-5M1889.85 1756.0v-5M1905.8 1756.0v-5M1921.75 1756.0v-5M1937.7 1756.0v-5M1953.65 1756.0v-5M1969.6 1756.0v-5M1985.55 1756.0v-5M2001.5 1756.0v-10M2017.45 1756.0v-5M2033.4 1756.0v-5M2049.35 1756.0v-5M2065.3 1756.0v-5M2081.25 1756.0v-5M2097.2 1756.0v-5M2113.15 1756.0v-5M2129.1 1756.0v-5M2145.05 1756.0v-5M2161 1756.0v-10M2176.95 1756.0v-5M2192.9 1756.0v-5M2208.85 1756.0v-5M2224.8 1756.0v-5M2240.75 1756.0v-5M2256.7 1756.0v-5M2272.65 1756.0v-5M2288.6 1756.0v-5M2304.55 1756.0v-5M1362.5 1741.96h-6M1362.5 1726.52h-6M1362.5 1711.08h-6M1362.5 1695.64h-6M1362.5 1680.2h-6M1362.5 1664.76h-6M1362.5 1649.32h-6M1362.5 1633.88h-6M1362.5 1618.44h-6M1365.5 1603h8M1362.5 1587.56h-6M1362.5 1572.12h-6M1362.5 1556.68h-6M1362.5 1541.24h-6M1362.5 1525.8h-6M1362.5 1510.36h-6M1362.5 1494.92h-6M1362.5 1479.48h-6M1362.5 1464.04h-6M1365.5 1448.6h8M1362.5 1433.16h-6M1362.5 1417.72h-6M1362.5 1402.28h-6M1362.5 1386.84h-6M1362.5 1371.4h-6M1362.5 1355.96h-6M1362.5 1340.52h-6M1362.5 1325.08h-6M1362.5 1309.64h-6M1365.5 1294.2h8M1362.5 1278.76h-6M1362.5 1263.32h-6M1362.5 1247.88h-6M1362.5 1232.44h-6M1362.5 1217h-6M1362.5 1201.56h-6M1362.5 1186.12h-6M1362.5 1170.68h-6M1362.5 1155.24h-6M1365.5 1139.8h8M1362.5 1124.36h-6M1362.5 1108.92h-6M1362.5 1093.48h-6M1362.5 1078.04h-6M1362.5 1062.6h-6M1362.5 1047.16h-6M1362.5 1031.72h-6M1362.5 1016.28h-6M1362.5 1000.84h-6" stroke="#000" stroke-width="2.6" fill="none"/>
<g clip-path="url(#cd)"><circle cx="1363.5" cy="1757.4" r="11.9" fill="url(#gk)"/><circle cx="1523" cy="1713.09" r="11.9" fill="url(#gk)"/><circle cx="1682.5" cy="1656.27" r="11.9" fill="url(#gk)"/><circle cx="1842" cy="1555.91" r="11.9" fill="url(#gk)"/><circle cx="2001.5" cy="1259.46" r="11.9" fill="url(#gk)"/><polyline points="1363.5,1757.4 1371.47,1756.47 1379.45,1755.49 1387.42,1754.49 1395.4,1753.44 1403.38,1752.35 1411.35,1751.21 1419.33,1750.04 1427.3,1748.81 1435.28,1747.54 1443.25,1746.22 1451.22,1744.85 1459.2,1743.42 1467.17,1741.94 1475.15,1740.4 1483.12,1738.8 1491.1,1737.13 1499.08,1735.41 1507.05,1733.61 1515.03,1731.74 1523,1729.8 1530.97,1727.78 1538.95,1725.69 1546.92,1723.51 1554.9,1721.25 1562.88,1718.89 1570.85,1716.45 1578.83,1713.91 1586.8,1711.27 1594.78,1708.53 1602.75,1705.67 1610.72,1702.71 1618.7,1699.63 1626.67,1696.43 1634.65,1693.11 1642.62,1689.65 1650.6,1686.06 1658.58,1682.33 1666.55,1678.45 1674.53,1674.42 1682.5,1670.23 1690.47,1665.88 1698.45,1661.35 1706.42,1656.65 1714.4,1651.76 1722.38,1646.69 1730.35,1641.41 1738.33,1635.93 1746.3,1630.23 1754.28,1624.31 1762.25,1618.15 1770.22,1611.76 1778.2,1605.11 1786.17,1598.2 1794.15,1591.03 1802.12,1583.57 1810.1,1575.81 1818.08,1567.76 1826.05,1559.39 1834.03,1550.68 1842,1541.64 1849.97,1532.25 1857.95,1522.48 1865.92,1512.33 1873.9,1501.79 1881.88,1490.83 1889.85,1479.44 1897.82,1467.6 1905.8,1455.3 1913.78,1442.52 1921.75,1429.24 1929.72,1415.43 1937.7,1401.09 1945.67,1386.18 1953.65,1370.69 1961.62,1354.58 1969.6,1337.85 1977.57,1320.46 1985.55,1302.39 1993.53,1283.61 2001.5,1264.1" fill="none" stroke="#ff0000" stroke-width="4.5"/></g>
<rect x="1364" y="986" width="956.5" height="771.5" fill="none" stroke="#000" stroke-width="3"/>
<text x="1351" y="1806" style="font-family:'Liberation Serif','Times New Roman',serif;font-size:51px">0</text>
<text x="1496.5" y="1806" style="font-family:'Liberation Serif','Times New Roman',serif;font-size:51px">10</text>
<text x="1657" y="1806" style="font-family:'Liberation Serif','Times New Roman',serif;font-size:51px">20</text>
<text x="1816.5" y="1806" style="font-family:'Liberation Serif','Times New Roman',serif;font-size:51px">30</text>
<text x="1976.5" y="1806" style="font-family:'Liberation Serif','Times New Roman',serif;font-size:51px">40</text>
<text x="2135" y="1806" style="font-family:'Liberation Serif','Times New Roman',serif;font-size:51px">50</text>
<text x="2295" y="1806" style="font-family:'Liberation Serif','Times New Roman',serif;font-size:51px">60</text>
<text x="1286.8" y="1772.4" style="font-family:'Liberation Serif','Times New Roman',serif;font-size:52px;letter-spacing:0.8px">0.0</text>
<text x="1287.8" y="1618" style="font-family:'Liberation Serif','Times New Roman',serif;font-size:52px;letter-spacing:0.8px">0.2</text>
<text x="1285.8" y="1463.6" style="font-family:'Liberation Serif','Times New Roman',serif;font-size:52px;letter-spacing:0.8px">0.4</text>
<text x="1286.8" y="1309.2" style="font-family:'Liberation Serif','Times New Roman',serif;font-size:52px;letter-spacing:0.8px">0.6</text>
<text x="1286.8" y="1154.8" style="font-family:'Liberation Serif','Times New Roman',serif;font-size:52px;letter-spacing:0.8px">0.8</text>
<text x="1286.8" y="1000.4" style="font-family:'Liberation Serif','Times New Roman',serif;font-size:52px;letter-spacing:0.8px">1.0</text>
<text x="1361.3" y="1061.5" style="font-family:'Liberation Serif','Times New Roman',serif;font-size:91px">(</text><text x="1400.4" y="1061.5" style="font-family:'Liberation Serif','Times New Roman',serif;font-size:91px">d</text><text x="1449.5" y="1061.5" style="font-family:'Liberation Serif','Times New Roman',serif;font-size:91px">)</text>
<circle cx="1522.1" cy="1015.7" r="12" fill="url(#gk)"/>
<line x1="1476" y1="1065.4" x2="1570.4" y2="1065.4" stroke="#ff1a1a" stroke-width="6.5"/>
<text x="1579.6" y="1078.7" style="font-family:'Liberation Serif','Times New Roman',serif;font-size:40px;letter-spacing:0.07px">The fitted curve</text>
<rect x="1429.6" y="1146.4" width="439.5" height="305.0999999999999" fill="#fff" stroke="#a8a8a8" stroke-width="2"/>
<path d="M1429.6 1184.54H1869.1M1429.6 1222.68H1869.1M1429.6 1260.81H1869.1M1429.6 1298.95H1869.1M1429.6 1337.09H1869.1M1429.6 1375.22H1869.1M1429.6 1413.36H1869.1M1616.3 1146.4V1451.5" stroke="#dcdcdc" stroke-width="2" fill="none"/>
<text x="1437.5" y="1175.9" style="font-family:'Liberation Sans',Arial,sans-serif;font-size:26px;stroke:none" fill="#2c2c2c">Model</text>
<text x="1678.2" y="1175.9" style="font-family:'Liberation Sans',Arial,sans-serif;font-size:26px;stroke:none" fill="#2c2c2c">BoxLucas1</text>
<text x="1437.5" y="1214.04" style="font-family:'Liberation Sans',Arial,sans-serif;font-size:26px;stroke:none" fill="#2c2c2c">Equation</text>
<text x="1629.7" y="1214.04" style="font-family:'Liberation Sans',Arial,sans-serif;font-size:26px;stroke:none" fill="#2c2c2c">y = a*(1 - exp(-b*x))</text>
<text x="1437.5" y="1252.18" style="font-family:'Liberation Sans',Arial,sans-serif;font-size:26px;stroke:none" fill="#2c2c2c">Plot</text>
<text x="1733.7" y="1252.18" style="font-family:'Liberation Sans',Arial,sans-serif;font-size:26px;stroke:none" fill="#2c2c2c">B</text>
<text x="1438.5" y="1290.31" style="font-family:'Liberation Sans',Arial,sans-serif;font-size:26px;stroke:none" fill="#2c2c2c">a</text>
<text x="1691.7" y="1290.31" style="font-family:'Liberation Sans',Arial,sans-serif;font-size:26px;stroke:none" fill="#2c2c2c">-0.03086</text>
<text x="1437.5" y="1328.45" style="font-family:'Liberation Sans',Arial,sans-serif;font-size:26px;stroke:none" fill="#2c2c2c">b</text>
<text x="1691.2" y="1328.45" style="font-family:'Liberation Sans',Arial,sans-serif;font-size:26px;stroke:none" fill="#2c2c2c">-0.07694</text>
<text x="1437.5" y="1366.59" style="font-family:'Liberation Sans',Arial,sans-serif;font-size:26px;stroke:none" fill="#2c2c2c">Reduced Chi-</text>
<text x="1675.2" y="1366.59" style="font-family:'Liberation Sans',Arial,sans-serif;font-size:26px;stroke:none" fill="#2c2c2c">3.40859E-4</text>
<text x="1437.5" y="1404.72" style="font-family:'Liberation Sans',Arial,sans-serif;font-size:26px;stroke:none" fill="#2c2c2c">R-Square (CO</text>
<text x="1696.2" y="1404.72" style="font-family:'Liberation Sans',Arial,sans-serif;font-size:26px;stroke:none" fill="#2c2c2c">0.99613</text>
<text x="1439.5" y="1442.86" style="font-family:'Liberation Sans',Arial,sans-serif;font-size:26px;stroke:none" fill="#2c2c2c">Adj. R-Square</text>
<text x="1696.2" y="1442.86" style="font-family:'Liberation Sans',Arial,sans-serif;font-size:26px;stroke:none" fill="#2c2c2c">0.99485</text>
<text x="1539.8" y="1865" style="font-family:'Liberation Serif','Times New Roman',serif;font-size:50px;letter-spacing:0.45px">Particle Concentration,</text>
<text x="2023.6" y="1865" style="font-family:'Liberation Serif','Times New Roman',serif;font-style:italic;font-size:50px">w</text>
<text x="2068.6" y="1865" style="font-family:'Liberation Serif','Times New Roman',serif;font-size:50px">(</text><text x="2087.4" y="1865" style="font-family:'Liberation Serif','Times New Roman',serif;font-size:50px">%</text><text x="2130.4" y="1865" style="font-family:'Liberation Serif','Times New Roman',serif;font-size:50px">)</text>
<text transform="translate(1245.5,1470.5) rotate(-90)" x="-4" y="0" style="font-family:'Liberation Serif','Times New Roman',serif;font-size:50px;letter-spacing:-2.2px">1-</text>
<text transform="translate(1245.5,1433.3) rotate(-90)" x="-3" y="0" style="font-family:'Liberation Sans',Arial,sans-serif;font-size:50px;stroke:none">η</text>
<text transform="translate(1263.5,1404) rotate(-90)" x="-2" y="0" style="font-family:'Liberation Sans',Arial,sans-serif;font-size:30px;stroke:none">r</text>
<text transform="translate(1226,1394.3) rotate(-90)" x="-1" y="0" style="font-family:'Liberation Sans',Arial,sans-serif;font-size:26px;letter-spacing:-0.73px;stroke:none">-1/2</text></svg>
</body></html>
